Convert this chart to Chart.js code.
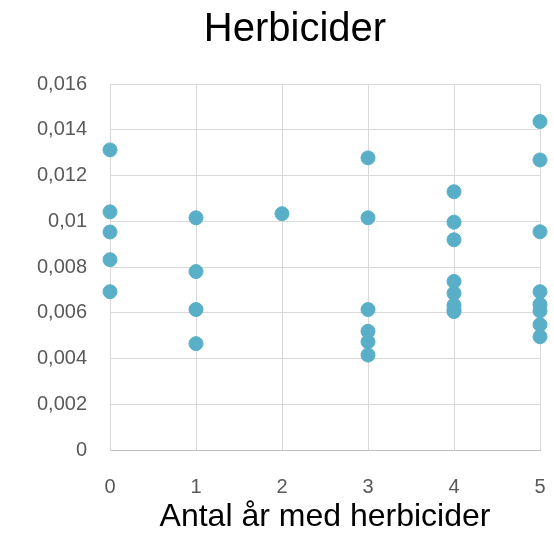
<!DOCTYPE html>
<html>
<head>
<meta charset="utf-8">
<script src="https://cdn.jsdelivr.net/npm/chart.js@4/dist/chart.umd.min.js"></script>
<style>
  html, body { margin: 0; padding: 0; background: #fff; }
  #wrap { width: 554px; height: 536px; }
</style>
</head>
<body>
<div id="wrap"><canvas id="myChart" width="554" height="536"></canvas></div>
<script>
// antal år med herbicider (x) och uppmätt värde (y)
const years = [0, 0, 0, 0, 0,
               1, 1, 1, 1,
               2,
               3, 3, 3, 3, 3, 3,
               4, 4, 4, 4, 4, 4, 4, 4,
               5, 5, 5, 5, 5, 5, 5, 5];
const values = [0.01312, 0.01041, 0.00953, 0.00832, 0.00692,
                0.01015, 0.00780, 0.00614, 0.00465,
                0.01033,
                0.01277, 0.01015, 0.00614, 0.00519, 0.00473, 0.00415,
                0.01129, 0.00996, 0.00919, 0.00737, 0.00685, 0.00633, 0.00614, 0.00605,
                0.01436, 0.01268, 0.00954, 0.00692, 0.00636, 0.00608, 0.00548, 0.00495];
const xTicks = [0, 1, 2, 3, 4, 5];
const yTicks = [0, 0.002, 0.004, 0.006, 0.008, 0.01, 0.012, 0.014, 0.016];

const points = years.map((x, i) => ({x: x, y: values[i]}));

const fmt = v => String(Number(v.toFixed(3))).replace('.', ',');

new Chart(document.getElementById('myChart'), {
    type: 'scatter',
    data: {
        datasets: [{
            label: 'Herbicider',
            data: points,
            backgroundColor: '#5aafc8',
            borderColor: '#5aafc8',
            pointRadius: 7,
            pointHoverRadius: 7,
            clip: false
        }]
    },
    options: {
        responsive: false,
        animation: false,
        layout: {padding: {left: 36, right: 0, top: 0, bottom: 0}},
        plugins: {
            legend: {display: false},
            tooltip: {enabled: false},
            title: {
                display: true,
                text: 'Herbicider',
                color: '#000',
                font: {family: 'Liberation Sans, Arial', size: 40, weight: 'normal'},
                padding: {top: 6, bottom: 30}
            }
        },
        scales: {
            x: {
                type: 'linear',
                min: 0,
                max: 5,
                afterBuildTicks: axis => { axis.ticks = xTicks.map(v => ({value: v})); },
                afterFit: axis => { axis.height = 86; axis.paddingRight = 14; axis.paddingLeft = 0; },
                grid: {color: '#d9d9d9', lineWidth: 1, drawTicks: false},
                border: {color: '#bfbfbf', width: 1},
                ticks: {
                    padding: 25,
                    color: '#595959',
                    font: {family: 'Liberation Sans, Arial', size: 20},
                    callback: v => String(v)
                },
                title: {
                    display: true,
                    text: 'Antal år med herbicider',
                    color: '#000',
                    font: {family: 'Liberation Sans, Arial', size: 32},
                    padding: {top: 0, bottom: 0}
                }
            },
            y: {
                type: 'linear',
                min: 0,
                max: 0.016,
                afterBuildTicks: axis => { axis.ticks = yTicks.map(v => ({value: v})); },
                afterFit: axis => { axis.width = 74; axis.paddingTop = 0; axis.paddingBottom = 0; },
                grid: {color: '#d9d9d9', lineWidth: 1, drawTicks: false},
                border: {color: '#d9d9d9', width: 1},
                ticks: {
                    padding: 23,
                    color: '#595959',
                    font: {family: 'Liberation Sans, Arial', size: 20},
                    callback: v => fmt(v)
                }
            }
        }
    }
});
</script>
</body>
</html>
